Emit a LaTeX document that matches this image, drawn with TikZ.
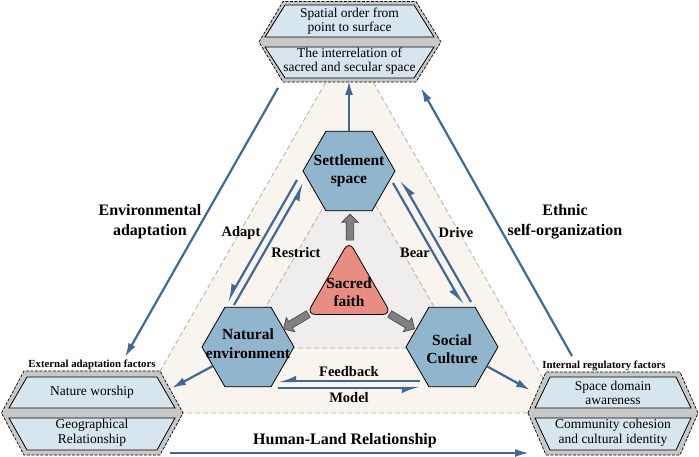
\documentclass[tikz,border=0pt]{standalone}
\usepackage{fontspec}
\setmainfont{Liberation Serif}
\usetikzlibrary{shapes.geometric,shapes.arrows,arrows.meta}
\definecolor{hexfill}{RGB}{144,181,205}
\definecolor{grpfill}{RGB}{214,229,238}
\definecolor{grpgray}{RGB}{200,200,200}
\definecolor{sacredred}{RGB}{233,140,130}
\definecolor{myblue}{RGB}{64,105,150}
\definecolor{beige}{RGB}{249,244,238}
\definecolor{innergray}{RGB}{240,238,236}
\definecolor{dashgray}{RGB}{178,178,178}
\definecolor{arrgray}{RGB}{128,128,128}
\definecolor{arrdark}{RGB}{70,70,70}
\begin{document}
\begin{tikzpicture}[x=1pt,y=-1pt,
  trifill/.style={draw=dashgray,line width=0.8pt,dash pattern=on 5pt off 3pt},
  hexnode/.style={regular polygon,regular polygon sides=6,minimum size=92pt,inner sep=0pt,fill=hexfill,draw=black,line width=0.8pt},
  sacred/.style={regular polygon,regular polygon sides=3,minimum size=98pt,inner sep=0pt,rounded corners=9pt,fill=sacredred,draw=black,line width=0.8pt},
  hextext/.style={font=\fontsize{15.5}{18.5}\selectfont\bfseries,align=center,inner sep=0pt},
  heading/.style={font=\fontsize{16}{20}\selectfont\bfseries,align=center,inner sep=0pt},
  rel/.style={font=\fontsize{14.5}{17}\selectfont\bfseries,inner sep=0pt},
  grptext/.style={font=\fontsize{13.5}{14.5}\selectfont,align=center,inner sep=0pt},
  factor/.style={font=\fontsize{10.8}{12}\selectfont\bfseries,inner sep=0pt},
  grpouter/.style={fill=grpgray,draw=black,line width=0.7pt,dash pattern=on 3pt off 1.5pt},
  grpinner/.style={fill=grpfill,draw=black,line width=0.8pt},
  bluearr/.style={draw=myblue,line width=2.2pt,-{Latex[length=14pt,width=8pt]}},
  harp/.style={draw=myblue,line width=2.2pt,-{Latex[length=14pt,width=11pt,harpoon,swap]}},
  blockarr/.style={single arrow,fill=arrgray,draw=arrdark,line width=0.6pt,minimum height=26pt,minimum width=16pt,inner sep=3.5pt,single arrow head extend=4.5pt}
]
\useasboundingbox (0,0) rectangle (699,457);

% background triangles
\path[trifill,fill=beige] (349.5,41) -- (136,413) -- (563,413) -- cycle;
\path[trifill,fill=innergray] (350,161) -- (242,348) -- (458,348) -- cycle;

% coordinates for free connector ends
\coordinate (tgB) at (349,81);
\coordinate (L1) at (278,88);
\coordinate (L2) at (125,357);
\coordinate (R1) at (572,356);
\coordinate (R2) at (421,88);
\coordinate (B1) at (170,453);
\coordinate (B2) at (529,453);
\coordinate (a1) at (297,180);
\coordinate (a2) at (227,302);
\coordinate (r1) at (234,305);
\coordinate (r2) at (304,183);
\coordinate (b1) at (393,183);
\coordinate (b2) at (463,305);
\coordinate (d1) at (471,302);
\coordinate (d2) at (401,180);
\coordinate (f1) at (420,381);
\coordinate (f2) at (278,381);
\coordinate (m1) at (278,388);
\coordinate (m2) at (420,388);
\coordinate (nG) at (172,388);
\coordinate (sG) at (530,390);

% main nodes
\node[hexnode] (ss) at (349,171) {};
\node[hexnode] (ne) at (248,347) {};
\node[hexnode] (sc) at (452,347) {};
\node[sacred] (sf) at (349,290) {};
\node[hextext] (ssT) at (349,171) {Settlement\\space};
\node[hextext] (neT) at (248,343.5) {Natural\\environment};
\node[hextext] (scT) at (452,349) {Social\\Culture};
\node[hextext] (sfT) at (349,292) {Sacred\\faith};

% block arrows from sacred faith
\node[blockarr,rotate=90] (bU) at (350,229) {};
\node[blockarr,rotate=211,minimum height=29pt] (bL) at (297.5,320.5) {};
\node[blockarr,rotate=-31,minimum height=29pt] (bR) at (400.5,320.5) {};

% blue connectors
\draw[bluearr] (ss) -- (tgB);
\draw[bluearr] (L1) -- (L2);
\draw[bluearr] (R1) -- (R2);
\draw[bluearr] (B1) -- (B2);
\draw[harp] (a1) -- (a2);
\draw[harp] (r1) -- (r2);
\draw[harp] (b1) -- (b2);
\draw[harp] (d1) -- (d2);
\draw[harp] (f1) -- (f2);
\draw[harp] (m1) -- (m2);
\draw[bluearr] (ne) -- (nG);
\draw[bluearr] (sc) -- (sG);

% top group
\path[grpouter] (259,42) -- (283,1.5) -- (416,1.5) -- (441,42) -- (416,82) -- (283,82) -- cycle;
\path[grpinner] (285,5) -- (414,5) -- (434,37) -- (265,37) -- cycle;
\path[grpinner] (265,47) -- (434,47) -- (414,78) -- (285,78) -- cycle;
\node[grptext] (t1) at (349.5,21) {Spatial order from\\point to surface};
\node[grptext] (t2) at (349.5,61) {The interrelation of\\sacred and secular space};

% left group
\path[grpouter] (1.5,413) -- (24,371) -- (160,371) -- (183,413) -- (160,455) -- (24,455) -- cycle;
\path[grpinner] (27,377) -- (157,377) -- (175,408) -- (9,408) -- cycle;
\path[grpinner] (9,418) -- (175,418) -- (157,450) -- (27,450) -- cycle;
\node[factor] (lf) at (92,365) {External adaptation factors};
\node[grptext] (l1) at (92,392) {Nature worship};
\node[grptext] (l2) at (92,433) {Geographical\\Relationship};

% right group
\path[grpouter] (528,413) -- (546,372) -- (680,372) -- (698,413) -- (680,455) -- (546,455) -- cycle;
\path[grpinner] (550,377) -- (676,377) -- (691,408) -- (535,408) -- cycle;
\path[grpinner] (535,418) -- (691,418) -- (676,450) -- (550,450) -- cycle;
\node[factor] (rf) at (604,366) {Internal regulatory factors};
\node[grptext] (rt1) at (613,393) {Space domain\\awareness};
\node[grptext] (rt2) at (613,433) {Community cohesion\\and cultural identity};

% labels
\node[heading] (envT) at (150,222) {Environmental\\adaptation};
\node[heading] (ethT) at (565,222) {Ethnic\\self-organization};
\node[heading] (hlT) at (345,441) {Human-Land Relationship};
\node[rel] (adT) at (241,233) {Adapt};
\node[rel] (reT) at (296,253) {Restrict};
\node[rel] (beT) at (415,253) {Bear};
\node[rel] (drT) at (456,233) {Drive};
\node[rel] (fbT) at (349,372) {Feedback};
\node[rel] (moT) at (349,398) {Model};
\end{tikzpicture}
\end{document}
